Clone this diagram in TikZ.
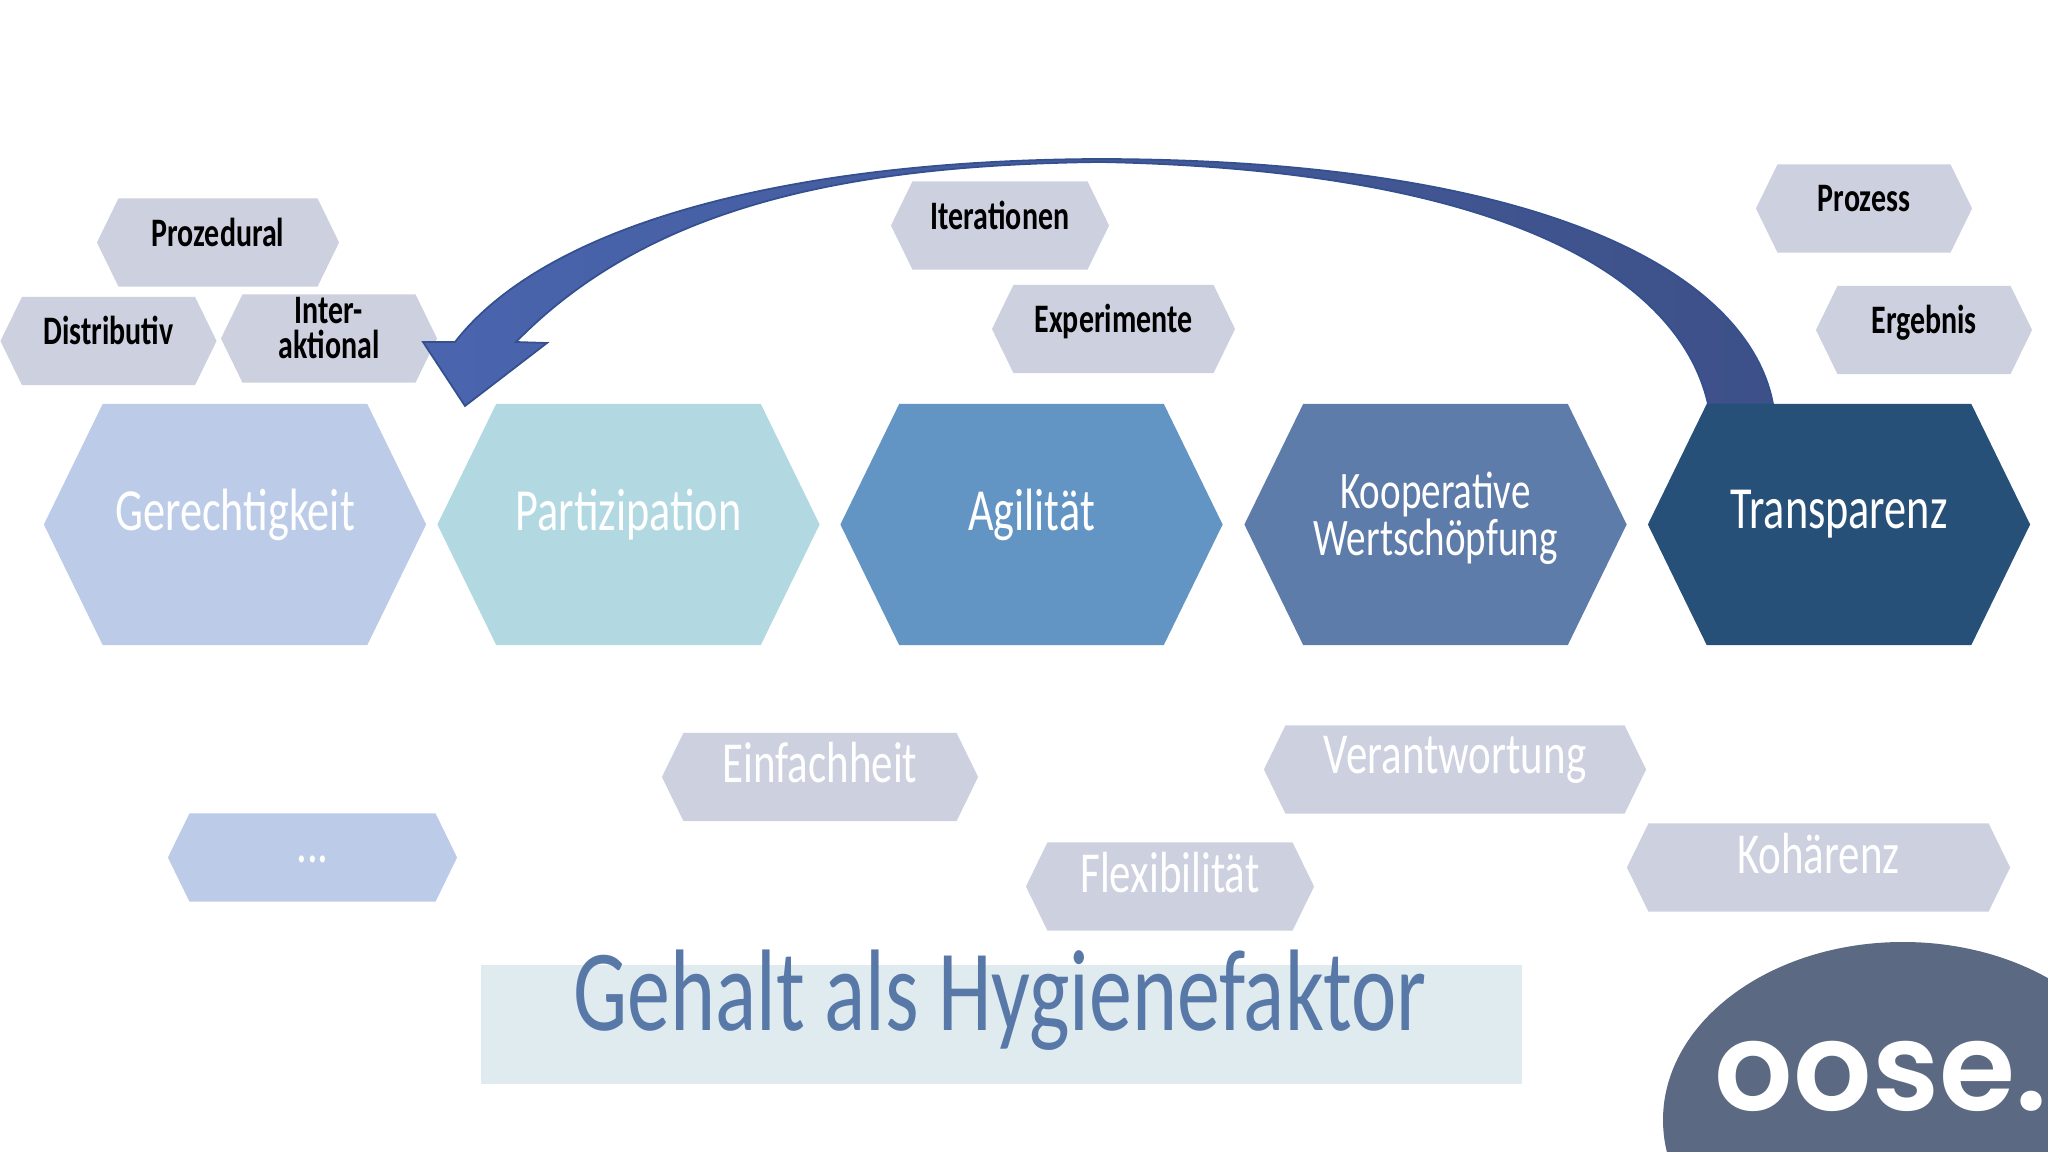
\documentclass[tikz,border=0pt]{standalone}
\usepackage{fontspec}
\setmainfont{Carlito}
\newfontfamily\handfont[FakeStretch=0.74]{Carlito}
\newfontfamily\logofont{Poppins SemiBold}
\usetikzlibrary{shapes.symbols}

\definecolor{gerblue}{HTML}{BCCCE8}
\definecolor{parblue}{HTML}{B2D9E2}
\definecolor{agiblue}{HTML}{6295C3}
\definecolor{koopblue}{HTML}{5E7CA9}
\definecolor{transblue}{HTML}{275078}
\definecolor{hexgrey}{HTML}{CDD1DF}
\definecolor{titleback}{HTML}{DFEBEF}
\definecolor{titleblue}{HTML}{5878A8}
\definecolor{logoblue}{HTML}{5B6983}
\definecolor{arrowleft}{HTML}{4A65AE}
\definecolor{arrowright}{HTML}{3D5088}
\definecolor{arrowline}{HTML}{34508F}

\tikzset{
  hexshape/.style={shape=signal, signal to=west and east, signal pointer angle=128,
    draw=none, inner sep=0pt, align=center},
  hexbig/.style={hexshape, fill=#1, minimum width=3.82cm, minimum height=2.41cm,
    text=white, text depth=.3cm, font=\handfont\fontsize{17}{13.4}\selectfont},
  hexsmall/.style={hexshape, fill=hexgrey, minimum width=#1, minimum height=.88cm,
    text=black, text depth=.21cm, font=\handfont\bfseries\fontsize{11.5}{9.9}\selectfont},
  hexlow/.style={hexsmall=#1, text=white, text depth=.29cm, font=\handfont\fontsize{16.5}{16.5}\selectfont},
}

\begin{document}
\begin{tikzpicture}[x=.01cm, y=-.01cm]
    \useasboundingbox (0,0) rectangle (2048,1152);

    % upper labels
    \node[hexsmall=2.42cm] (proz) at (218,242.5) {Prozedural};
    \node[hexsmall=2.16cm] (dist) at (108.5,341) {Distributiv};
    \node[hexsmall=2.16cm] (inter) at (329,338.5) {Inter-\\aktional};
    \node[hexsmall=2.18cm] (iter) at (1000,225.5) {Iterationen};
    \node[hexsmall=2.43cm] (exper) at (1113.5,329) {Experimente};
    \node[hexsmall=2.16cm] (prozess) at (1864,208.5) {Prozess};
    \node[hexsmall=2.16cm] (ergeb) at (1924,330) {Ergebnis};

    % feedback arrow
    \draw[draw=arrowline, line width=.5pt, left color=arrowleft, right color=arrowright]
      (1773,404) .. controls (1750,280) and (1560,160) .. (1100,159)
      .. controls (800,160) and (550,220) .. (455,342)
      -- (423,342) -- (465,406) -- (547,343) -- (516,342)
      .. controls (650,205) and (850,165) .. (1100,162)
      .. controls (1510,170) and (1680,280) .. (1708,404) -- cycle;

    % main values
    \node[hexbig=gerblue] (ger) at (235,524.5) {Gerechtigkeit};
    \node[hexbig=parblue] (par) at (628.5,524.5) {Partizipation};
    \node[hexbig=agiblue] (agi) at (1031.5,524.5) {Agilität};
    \node[hexbig=koopblue, text depth=.22cm, font=\handfont\fontsize{15}{13.4}\selectfont] (koop) at (1435.5,524.5) {Kooperative\\Wertschöpfung};
    \node[hexbig=transblue] (trans) at (1839,524.5) {Transparenz};

    % lower labels
    \node[hexlow=3.16cm] (einf) at (820,777) {Einfachheit};
    \node[hexlow=3.82cm] (verant) at (1455,769.5) {Verantwortung};
    \node[hexlow=2.88cm] (flex) at (1170,886.5) {Flexibilität};
    \node[hexlow=3.83cm] (koh) at (1818.5,867.5) {Kohärenz};
    \node[hexlow=2.89cm, fill=gerblue, text height=.1cm, text depth=0pt] (dots) at (312.5,857.5) {...};

    % title
    \fill[titleback] (481,965) rectangle (1522,1084);
    \node[text=titleblue, font=\handfont\fontsize{33}{33}\selectfont, anchor=base] (title) at (1000,1030) {Gehalt als Hygienefaktor};

    % logo
    \begin{scope}
      \clip (0,0) rectangle (2048,1152);
      \fill[logoblue] (1903,1120) ellipse [x radius=240, y radius=178];
    \end{scope}
    \node[text=white, font=\logofont\fontsize{35}{35}\selectfont, anchor=base] (logo) at (1881,1110) {oose.};
  \end{tikzpicture}
\end{document}
